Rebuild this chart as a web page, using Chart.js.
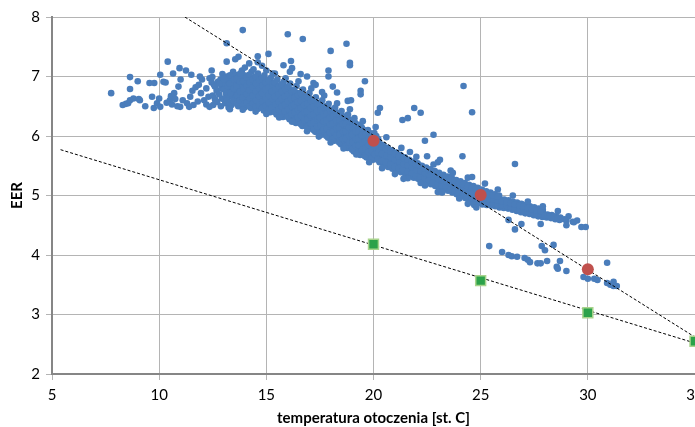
<!DOCTYPE html>
<html>
<head>
<meta charset="utf-8">
<script src="https://cdn.jsdelivr.net/npm/chart.js@4/dist/chart.umd.min.js"></script>
<style>
html,body{margin:0;padding:0;background:#fff;overflow:hidden;}
#wrap{width:745px;height:427px;position:relative;}
</style>
</head>
<body>
<div id="wrap"><canvas id="c"></canvas></div>
<script>
// ---- data (temperature [st. C], EER) ----
const xTicks = [5, 10, 15, 20, 25, 30, 35];
const yTicks = [2, 3, 4, 5, 6, 7, 8];
const xTitle = 'temperatura otoczenia [st. C]';
const yTitle = 'EER';

const cloudWest = [
 [7.76,6.72],[8.3,6.52],[8.45,6.54],[8.55,6.55],[8.64,6.6],[8.8,6.63],[8.64,6.99],[8.64,6.79],[9.0,6.92],[9.05,6.62],
 [9.1,6.6],[9.35,6.5],[9.55,6.89],[9.67,6.66],[9.77,6.89],[9.75,6.47],[9.9,6.55],[10.0,6.63],[10.05,7.03],[10.05,6.49],
 [10.2,6.91],[10.3,6.9],[10.35,6.56],[10.4,7.25],[10.5,6.6],[10.6,6.53],[10.55,6.67],[10.65,7.05],[10.7,6.72],[10.75,6.62],
 [10.85,6.5],[10.9,6.83],[10.95,7.14],[11.0,6.95],[10.98,6.49],[11.1,6.6],[11.25,7.1],[11.3,6.55],[11.4,6.49],[11.45,6.66],
 [11.5,7.03],[11.55,6.76],[11.7,6.82],[11.85,6.86],[11.9,7.0],[11.95,6.72],[12.1,6.6],[12.2,6.53],[12.3,6.66],[12.35,6.97],
 [12.35,6.49],[12.45,7.1],[12.45,6.9],[12.2,6.8],[11.8,6.58],[11.6,6.52],[12.0,6.95],[12.6,6.62]
];

const cloudBand = [
 [12.52,6.52],[12.5,6.68],[12.56,6.86],[12.48,6.99],[12.71,6.57],[12.68,6.76],[12.74,6.91],
 [12.88,6.5],[12.93,6.63],[12.9,6.8],[12.86,6.95],[12.95,7.04],[13.08,6.55],[13.12,6.71],[13.06,6.88],[13.14,7.0],
 [13.24,6.48],[13.2,6.64],[13.27,6.79],[13.22,6.93],[13.38,6.52],[13.43,6.66],[13.4,6.83],[13.36,6.97],[13.45,7.08],
 [13.56,6.59],[13.52,6.74],[13.58,6.9],[13.54,7.03],[13.69,6.5],[13.72,6.61],[13.67,6.77],[13.74,6.87],[13.7,6.99],
 [13.84,6.55],[13.81,6.69],[13.87,6.83],[13.83,6.96],[13.86,7.1],[13.99,6.48],[14.03,6.6],[14.0,6.74],[14.05,6.88],[13.97,7.02],
 [14.14,6.53],[14.11,6.67],[14.17,6.81],[14.13,6.94],[14.28,6.47],[14.33,6.58],[14.3,6.72],[14.26,6.85],[14.35,6.98],[14.31,7.08],
 [14.44,6.52],[14.41,6.64],[14.47,6.79],[14.43,6.91],[14.58,6.45],[14.62,6.56],[14.6,6.7],[14.56,6.84],[14.64,6.96],[14.61,7.05],
 [14.74,6.5],[14.71,6.62],[14.77,6.76],[14.73,6.89],[14.88,6.43],[14.92,6.55],[14.9,6.68],[14.86,6.8],[14.94,6.93],[14.91,7.02],
 [15.04,6.48],[15.01,6.6],[15.07,6.73],[15.03,6.86],[15.18,6.4],[15.22,6.52],[15.2,6.65],[15.16,6.77],[15.24,6.9],[15.21,6.98],
 [15.34,6.45],[15.31,6.58],[15.37,6.7],[15.33,6.83],[15.48,6.36],[15.52,6.48],[15.5,6.6],[15.46,6.72],[15.54,6.85],[15.51,6.95],
 [15.64,6.42],[15.61,6.55],[15.67,6.67],[15.63,6.8],[15.78,6.32],[15.82,6.44],[15.8,6.57],[15.76,6.69],[15.84,6.82],[15.81,6.91],
 [15.94,6.38],[15.91,6.5],[15.97,6.63],[15.93,6.75],[16.08,6.28],[16.12,6.4],[16.1,6.52],[16.06,6.65],[16.14,6.78],[16.11,6.88],
 [16.24,6.34],[16.21,6.46],[16.27,6.58],[16.23,6.7],[16.38,6.22],[16.42,6.35],[16.4,6.47],[16.36,6.6],[16.44,6.72],[16.41,6.84],
 [16.54,6.28],[16.51,6.41],[16.57,6.53],[16.53,6.66],[16.68,6.17],[16.72,6.3],[16.7,6.42],[16.66,6.55],[16.74,6.67],[16.71,6.78],
 [16.84,6.23],[16.81,6.36],[16.87,6.48],[16.83,6.6],[16.98,6.12],[17.02,6.24],[17.0,6.37],[16.96,6.5],[17.04,6.62],[17.01,6.72],
 [17.14,6.18],[17.11,6.3],[17.17,6.43],[17.13,6.56],[17.28,6.07],[17.32,6.19],[17.3,6.32],[17.26,6.44],[17.34,6.56],[17.31,6.65],
 [17.44,6.13],[17.41,6.25],[17.47,6.38],[17.43,6.5],[17.58,6.02],[17.62,6.14],[17.6,6.26],[17.56,6.38],[17.64,6.5],[17.61,6.6],
 [17.74,6.08],[17.71,6.2],[17.77,6.32],[17.73,6.44],[17.88,5.97],[17.92,6.09],[17.9,6.21],[17.86,6.33],[17.94,6.45],[17.91,6.54],
 [18.04,6.03],[18.01,6.15],[18.07,6.27],[18.03,6.39],[18.18,5.92],[18.22,6.04],[18.2,6.16],[18.16,6.28],[18.24,6.4],[18.21,6.48],
 [18.34,5.98],[18.31,6.1],[18.37,6.22],[18.33,6.34],[18.48,5.86],[18.52,5.98],[18.5,6.1],[18.46,6.22],[18.54,6.34],[18.51,6.42],
 [18.64,5.92],[18.61,6.04],[18.67,6.16],[18.63,6.28],[18.78,5.8],[18.82,5.92],[18.8,6.04],[18.76,6.16],[18.84,6.28],[18.81,6.36],
 [18.94,5.86],[18.91,5.98],[18.97,6.1],[18.93,6.22],[19.08,5.74],[19.12,5.86],[19.1,5.98],[19.06,6.1],[19.14,6.22],[19.11,6.3],
 [19.24,5.8],[19.21,5.92],[19.27,6.04],[19.23,6.16],[19.38,5.68],[19.42,5.8],[19.4,5.92],[19.36,6.04],[19.44,6.15],
 [19.54,5.74],[19.51,5.86],[19.57,5.98],[19.53,6.1],[19.68,5.64],[19.72,5.76],[19.7,5.88],[19.66,6.0],[19.74,6.1],
 [19.84,5.7],[19.81,5.82],[19.87,5.94],[19.83,6.05],[19.98,5.6],[20.02,5.72],[20.0,5.84],[19.96,5.96],[20.04,6.05],
 [20.14,5.66],[20.11,5.78],[20.17,5.9],[20.13,6.0],[20.28,5.56],[20.32,5.67],[20.3,5.79],[20.26,5.9],
 [20.48,5.52],[20.52,5.63],[20.5,5.74],[20.46,5.85],[20.68,5.48],[20.72,5.6],[20.7,5.7],[20.66,5.8],
 [20.88,5.45],[20.92,5.56],[20.9,5.66],[20.86,5.76],[21.08,5.42],[21.12,5.52],[21.1,5.62],[21.06,5.72],
 [21.28,5.39],[21.32,5.49],[21.3,5.59],[21.26,5.68],[21.48,5.36],[21.52,5.46],[21.5,5.56],[21.46,5.64],
 [21.68,5.33],[21.72,5.43],[21.7,5.52],[21.66,5.6],[21.88,5.3],[21.92,5.4],[21.9,5.49],[21.86,5.57],
 [22.08,5.28],[22.12,5.37],[22.1,5.46],[22.06,5.54],[22.28,5.25],[22.32,5.34],[22.3,5.43],[22.26,5.5],
 [22.48,5.22],[22.52,5.31],[22.5,5.4],[22.46,5.47],[22.68,5.19],[22.72,5.28],[22.7,5.37],[22.66,5.44],
 [22.88,5.16],[22.92,5.25],[22.9,5.34],[22.86,5.41],[23.08,5.13],[23.12,5.22],[23.1,5.31],[23.06,5.38],
 [23.28,5.11],[23.32,5.2],[23.3,5.28],[23.26,5.35],[23.48,5.08],[23.52,5.17],[23.5,5.25],[23.46,5.32],
 [23.68,5.05],[23.72,5.14],[23.7,5.22],[23.66,5.29],[23.88,5.02],[23.92,5.11],[23.9,5.19],[23.86,5.26],
 [24.08,4.99],[24.12,5.08],[24.1,5.16],[24.06,5.24],[24.28,4.96],[24.32,5.05],[24.3,5.13],[24.26,5.21],
 [24.48,4.92],[24.52,5.02],[24.5,5.1],[24.46,5.18],[24.68,4.89],[24.72,4.98],[24.7,5.07],[24.66,5.16],
 [24.88,4.87],[24.92,4.95],[24.9,5.04],[24.86,5.13],[25.08,4.85],[25.12,4.93],[25.1,5.01],[25.06,5.1],
 [25.28,4.84],[25.32,4.91],[25.3,4.99],[25.26,5.07],[25.48,4.83],[25.52,4.9],[25.5,4.97],[25.46,5.05],
 [25.68,4.82],[25.72,4.89],[25.7,4.96],[25.66,5.02],[25.88,4.8],[25.92,4.87],[25.9,4.94],[25.86,5.0],
 [26.08,4.79],[26.12,4.86],[26.1,4.93],[26.28,4.78],[26.32,4.85],[26.3,4.92],[26.48,4.76],[26.52,4.83],[26.5,4.9],
 [26.68,4.74],[26.72,4.81],[26.7,4.88],[26.88,4.72],[26.92,4.79],[26.9,4.86],[27.08,4.7],[27.12,4.77],[27.1,4.84],
 [27.28,4.69],[27.32,4.75],[27.3,4.82],[27.48,4.67],[27.52,4.73],[27.5,4.8],[27.68,4.65],[27.72,4.72],[27.7,4.78],
 [27.88,4.64],[27.92,4.7],[27.9,4.76],[28.08,4.63],[28.12,4.68],[28.28,4.62],[28.32,4.67],[28.48,4.6],[28.52,4.65],
 [28.68,4.59],[28.72,4.63],[29.0,4.58],[29.3,4.56]
];

const cloudCore = [
 [12.62,6.6],[12.6,6.83],[12.8,6.7],[12.82,6.88],[13.0,6.62],[13.02,6.78],[13.0,6.96],[13.16,6.6],[13.18,6.84],[13.3,6.56],[13.32,6.72],[13.3,6.88],[13.3,7.02],
 [13.47,6.6],[13.48,6.8],[13.5,6.95],[13.62,6.55],[13.64,6.68],[13.6,6.83],[13.62,6.96],[13.76,6.6],[13.78,6.75],[13.77,6.91],[13.78,7.05],
 [13.92,6.52],[13.9,6.65],[13.93,6.79],[13.92,6.92],[14.08,6.56],[14.07,6.7],[14.09,6.85],[14.08,6.98],[14.21,6.5],[14.22,6.63],[14.2,6.77],[14.22,6.9],[14.2,7.03],
 [14.37,6.55],[14.38,6.68],[14.36,6.82],[14.38,6.95],[14.5,6.49],[14.52,6.6],[14.5,6.75],[14.52,6.88],[14.5,7.0],
 [14.67,6.52],[14.66,6.67],[14.68,6.8],[14.67,6.94],[14.8,6.47],[14.82,6.58],[14.8,6.72],[14.82,6.85],[14.8,6.98],
 [14.97,6.51],[14.98,6.64],[14.96,6.78],[14.98,6.9],[15.1,6.44],[15.12,6.56],[15.1,6.69],[15.12,6.82],[15.1,6.94],
 [15.27,6.48],[15.28,6.62],[15.26,6.75],[15.28,6.87],[15.4,6.4],[15.42,6.53],[15.4,6.66],[15.42,6.78],[15.4,6.9],
 [15.57,6.45],[15.58,6.57],[15.56,6.7],[15.58,6.83],[15.7,6.36],[15.72,6.49],[15.7,6.62],[15.72,6.75],[15.7,6.87],
 [15.87,6.41],[15.88,6.53],[15.86,6.66],[15.88,6.79],[16.0,6.32],[16.02,6.45],[16.0,6.58],[16.02,6.7],[16.0,6.83],
 [16.17,6.37],[16.18,6.5],[16.16,6.62],[16.18,6.75],[16.3,6.26],[16.32,6.39],[16.3,6.52],[16.32,6.64],[16.3,6.77],
 [16.47,6.31],[16.48,6.44],[16.46,6.57],[16.48,6.69],[16.6,6.2],[16.62,6.34],[16.6,6.47],[16.62,6.59],[16.6,6.72],
 [16.77,6.27],[16.78,6.4],[16.76,6.52],[16.78,6.64],[16.9,6.15],[16.92,6.28],[16.9,6.41],[16.92,6.54],[16.9,6.66],
 [17.07,6.21],[17.08,6.34],[17.06,6.47],[17.08,6.59],[17.2,6.1],[17.22,6.23],[17.2,6.36],[17.22,6.49],[17.2,6.6],
 [17.37,6.16],[17.38,6.29],[17.36,6.42],[17.38,6.54],[17.5,6.05],[17.52,6.18],[17.5,6.31],[17.52,6.44],[17.5,6.55],
 [17.67,6.11],[17.68,6.24],[17.66,6.36],[17.68,6.48],[17.8,6.0],[17.82,6.13],[17.8,6.26],[17.82,6.38],[17.8,6.5],
 [17.97,6.06],[17.98,6.19],[17.96,6.31],[17.98,6.43],[18.1,5.95],[18.12,6.08],[18.1,6.21],[18.12,6.33],[18.1,6.44],
 [18.27,6.01],[18.28,6.13],[18.26,6.26],[18.28,6.37],[18.4,5.89],[18.42,6.02],[18.4,6.14],[18.42,6.27],[18.4,6.38],
 [18.57,5.95],[18.58,6.07],[18.56,6.2],[18.58,6.32],[18.7,5.83],[18.72,5.96],[18.7,6.08],[18.72,6.21],[18.7,6.32],
 [18.87,5.89],[18.88,6.01],[18.86,6.14],[18.88,6.26],[19.0,5.77],[19.02,5.9],[19.0,6.02],[19.02,6.14],[19.0,6.26],
 [19.17,5.83],[19.18,5.95],[19.16,6.08],[19.18,6.19],[19.3,5.71],[19.32,5.84],[19.3,5.96],[19.32,6.08],[19.3,6.19],
 [19.47,5.77],[19.48,5.89],[19.46,6.01],[19.48,6.12],[19.6,5.66],[19.62,5.79],[19.6,5.91],[19.62,6.03],
 [19.77,5.73],[19.78,5.85],[19.76,5.97],[19.9,5.62],[19.92,5.75],[19.9,5.87],[19.92,5.99],
 [20.07,5.69],[20.08,5.81],[20.06,5.93],[20.2,5.6],[20.22,5.72],[20.2,5.84],[20.22,5.95],
 [20.38,5.58],[20.4,5.7],[20.38,5.82],[20.58,5.55],[20.6,5.67],[20.58,5.78],[20.78,5.52],[20.8,5.64],[20.78,5.74],
 [20.98,5.48],[21.0,5.6],[20.98,5.7],[21.18,5.46],[21.2,5.57],[21.18,5.66],[21.38,5.43],[21.4,5.53],[21.38,5.63],
 [21.58,5.4],[21.6,5.5],[21.58,5.6],[21.78,5.37],[21.8,5.47],[21.78,5.56],[21.98,5.33],[22.0,5.43],[21.98,5.52],
 [22.18,5.31],[22.2,5.41],[22.18,5.5],[22.38,5.28],[22.4,5.38],[22.38,5.46],[22.58,5.25],[22.6,5.35],[22.58,5.43],
 [22.78,5.22],[22.8,5.32],[22.78,5.4],[22.98,5.19],[23.0,5.28],[22.98,5.36],[23.18,5.16],[23.2,5.26],[23.18,5.33],
 [23.38,5.14],[23.4,5.23],[23.38,5.3],[23.58,5.11],[23.6,5.2],[23.58,5.28],[23.78,5.08],[23.8,5.17],[23.78,5.25],
 [23.98,5.05],[24.0,5.14],[23.98,5.22],[24.18,5.02],[24.2,5.11],[24.18,5.19],[24.38,4.99],[24.4,5.08],[24.38,5.16],
 [24.58,4.96],[24.6,5.05],[24.58,5.13],[24.78,4.93],[24.8,5.02],[24.78,5.11],[24.98,4.9],[25.0,4.98],[24.98,5.07],
 [25.18,4.88],[25.2,4.96],[25.18,5.05],[25.38,4.87],[25.4,4.94],[25.38,5.02],[25.58,4.86],[25.6,4.93],[25.58,5.0],
 [25.78,4.84],[25.8,4.92],[25.78,4.98],[25.98,4.83],[26.0,4.9],[26.2,4.82],[26.2,4.89],[26.4,4.8],[26.4,4.87],
 [26.6,4.78],[26.6,4.85],[26.8,4.76],[26.8,4.83],[27.0,4.74],[27.0,4.81],[27.2,4.73],[27.2,4.79],[27.4,4.71],[27.4,4.77],
 [27.6,4.69],[27.6,4.75],[27.8,4.68],[27.8,4.73],[28.0,4.66],[28.2,4.65],[28.4,4.64],[28.6,4.62]
];

const cloudEdges = [
 [13.3,6.45],[13.9,6.44],[14.5,6.41],[15.0,6.37],[15.6,6.31],[16.2,6.24],[16.9,6.08],[17.45,5.99],[18.0,5.89],[18.6,5.79],
 [19.2,5.69],[19.8,5.56],[20.4,5.46],[21.0,5.36],[21.6,5.29],[22.4,5.17],[23.2,5.06],[24.0,4.95],[24.4,4.86],
 [14.0,7.15],[14.4,7.12],[15.3,7.05],[15.9,6.97],[16.5,6.92],[17.1,6.8],[17.7,6.68],[18.3,6.55],[18.9,6.45],[19.5,6.25],
 [20.1,6.15],[20.6,5.98],[21.3,5.8],[22.0,5.65],[22.8,5.52],[23.6,5.42],[24.4,5.3],[25.2,5.2],[25.8,5.1],[26.5,5.0],
 [27.2,4.9],[27.9,4.82],[28.6,4.74],[29.1,4.65],[28.9,4.6],[29.5,4.58]
];

const cloudOutliers = [
 [13.15,7.56],[13.15,7.25],[13.55,7.29],[13.7,7.33],[13.9,7.78],[14.2,7.22],[14.6,7.24],[14.6,7.34],[15.1,7.38],[15.8,7.19],
 [16.0,7.71],[16.15,7.26],[16.2,7.14],[16.1,7.08],[16.6,7.04],[16.7,7.63],[17.2,6.89],[17.3,6.86],[17.6,6.74],[17.9,7.1],
 [17.9,7.0],[18.0,7.43],[18.1,6.83],[18.3,6.73],[18.74,7.55],[18.9,7.23],[18.9,7.19],[19.4,6.76],[19.4,6.7],[19.6,6.92],
 [18.8,6.59],[18.95,6.6],[20.2,6.39],[20.3,6.47],[21.35,6.27],[21.6,6.3],[21.9,6.47],[22.2,6.39],[22.8,6.02],[22.4,5.92],
 [24.2,6.84],[24.6,6.4],[24.15,5.66],[26.6,5.53],[21.7,5.73],[22.5,5.66],[23.0,5.56],[23.1,5.6],[23.7,5.38],[24.6,5.31],
 [15.0,7.1],[14.8,7.18],[15.4,7.05],[16.9,7.0],[21.4,5.28],[22.2,5.21],[23.0,5.06],[23.2,5.05],[24.7,4.84],[24.8,4.8]
];

const cloudEast = [
 [25.4,4.15],[26.0,4.05],[26.3,4.0],[26.45,3.98],[26.7,3.97],[27.05,3.95],[27.2,3.92],[27.3,3.88],[27.65,3.86],[27.8,3.86],
 [28.1,3.9],[28.4,4.17],[27.85,4.15],[28.0,4.08],[28.7,3.9],[28.55,3.8],[28.6,3.77],[29.0,3.73],[26.6,4.43],[26.3,4.59],
 [26.9,4.52],[27.8,4.52],[29.0,4.5],[29.35,4.55],[29.7,4.47],[29.9,4.47],[30.9,3.87],[29.8,3.63],[30.0,3.6],[30.3,3.6],
 [30.45,3.58],[30.9,3.53],[31.2,3.55],[31.2,3.48],[31.35,3.48],[31.05,3.5]
];

const measuredEER = [[20, 5.92], [25, 5.01], [30, 3.76]];
const nominalEER  = [[20, 4.18], [25, 3.57], [30, 3.03], [35, 2.55]];
const trendMeasured = [[11.2, 8.0], [35, 2.62]];
const trendNominal  = [[5.4, 5.77], [35, 2.52]];

// ---- chart ----
const pts = a => a.map(p => ({x: p[0], y: p[1]}));
const cloud = pts([].concat(cloudWest, cloudBand, cloudCore, cloudEdges, cloudOutliers, cloudEast));
const FONT = 'Lato, "Open Sans", sans-serif';

new Chart(document.getElementById('c'), {
  type: 'scatter',
  data: {
    datasets: [
      {data: pts(nominalEER), pointStyle: 'rect', pointRadius: 7, backgroundColor: '#2ca24a', borderColor: '#a8d48c', borderWidth: 1.5},
      {data: pts(measuredEER), pointRadius: 6, backgroundColor: '#c0504d', borderColor: '#c0504d', borderWidth: 0},
      {data: pts(trendMeasured), showLine: true, pointRadius: 0, borderColor: '#000', borderWidth: 1, borderDash: [3, 2]},
      {data: pts(trendNominal), showLine: true, pointRadius: 0, borderColor: '#000', borderWidth: 1, borderDash: [3, 2]},
      {data: cloud, pointRadius: 3.3, backgroundColor: '#4a7dbb', borderWidth: 0}
    ]
  },
  options: {
    responsive: true,
    maintainAspectRatio: false,
    animation: false,
    events: [],
    layout: {padding: {top: 17, right: 50, left: 0, bottom: 0}},
    plugins: {legend: {display: false}, tooltip: {enabled: false}},
    scales: {
      x: {
        type: 'linear', min: 5, max: 35,
        afterBuildTicks: s => { s.ticks = xTicks.map(v => ({value: v})); },
        afterFit: s => { s.height = 53; },
        ticks: {color: '#000', font: {family: FONT, size: 15}, padding: 6, maxRotation: 0},
        grid: {color: '#b4b4b4', lineWidth: 1, tickLength: 6},
        border: {color: '#868686', width: 2},
        title: {display: true, text: xTitle, color: '#000', font: {family: FONT, size: 15, weight: 'bold'}, padding: {top: 0, bottom: 0}}
      },
      y: {
        type: 'linear', min: 2, max: 8,
        afterBuildTicks: s => { s.ticks = yTicks.map(v => ({value: v})); },
        afterFit: s => { s.width = 52; },
        ticks: {color: '#000', font: {family: FONT, size: 15}, padding: 6},
        grid: {color: '#b4b4b4', lineWidth: 1, tickLength: 6},
        border: {color: '#868686', width: 2},
        title: {display: true, text: yTitle, color: '#000', font: {family: FONT, size: 15, weight: 'bold'}, padding: {top: 8, bottom: 0}}
      }
    }
  }
});
</script>
</body>
</html>
